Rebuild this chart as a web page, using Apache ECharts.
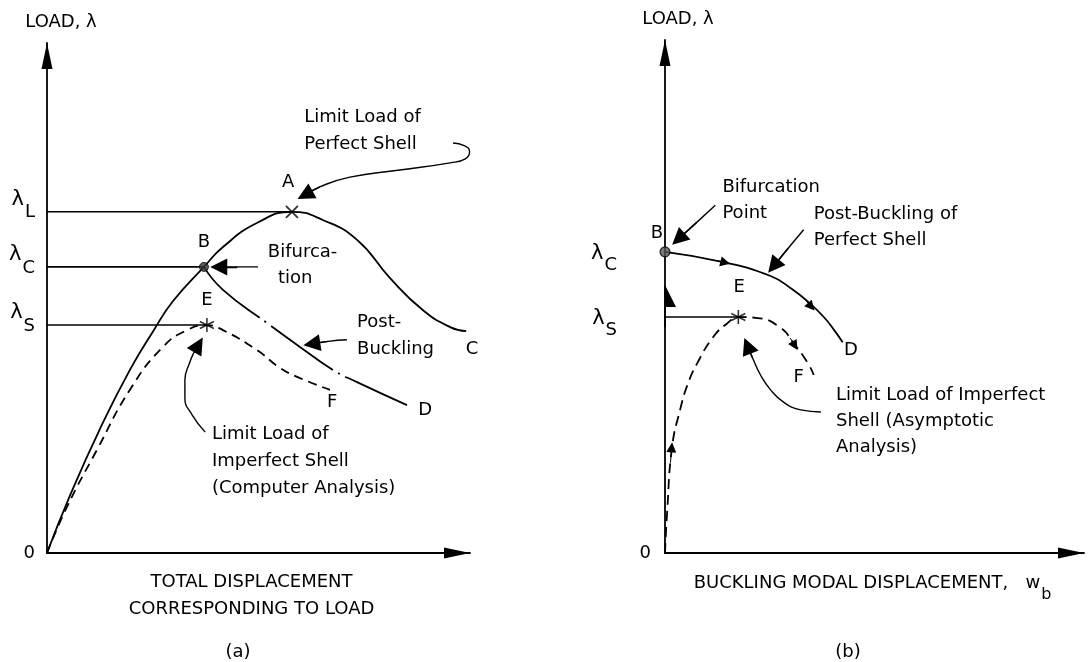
<!DOCTYPE html>
<html>
<head>
<meta charset="utf-8">
<script src="https://cdn.jsdelivr.net/npm/echarts@6/dist/echarts.min.js"></script>
<style>html,body{margin:0;padding:0;background:#fff;}#c{width:1090px;height:662px;}</style>
</head>
<body>
<div id="c"></div>
<script>
// ---------- Panel (a): total displacement vs load ----------
const aTickValues = [0, 44.7, 56.1, 66.9];
const aTickLabels = ['0', 'S', 'C', 'L'];
const aPrimaryPath = [[0,0],[5.4,11.2],[12.5,24.3],[19.6,35.9],[25.1,43.5],[29.8,49.4],[37.1,56.1],[41.6,60.0],[49.6,64.7],[57.9,66.9],[65.2,65.3],[73.3,61.4],[81.1,53.9],[88.9,47.6],[95.3,44.3],[99.1,43.5]];
const aPostBucklingPath = [[37.1,56.1],[41.6,51.6],[52.0,45.1],[59.8,40.4],[67.6,35.9],[73.3,33.5],[85.1,29.0]];
const aImperfectPath = [[0,0],[4.7,9.0],[11.8,20.2],[19.6,32.0],[27.4,40.4],[33.1,43.7],[37.8,44.7],[41.6,43.7],[49.6,39.8],[55.1,36.3],[59.8,34.3],[66.9,32.0]];
const aRefLines = [[[0,66.9],[57.9,66.9]], [[0,56.1],[37.1,56.1]], [[0,44.7],[37.8,44.7]]];
const aPointA = [57.9, 66.9];
const aPointB = [37.1, 56.1];
const aPointE = [37.8, 44.7];
const aPointLabels = [['A',57.0,72.7],['B',37.1,61.0],['E',37.8,49.6],['C',100.5,40.0],['D',89.4,28.0],['F',67.4,29.6]];
const aNotes = [
  ['Limit Load of\nPerfect Shell', 60.8, 82.8],
  ['Bifurca-', 52.2, 59.0],
  ['tion', 54.6, 53.9],
  ['Post-\nBuckling', 73.3, 42.6],
  ['Limit Load of\nImperfect Shell\n(Computer Analysis)', 39.0, 17.9]
];
const aArrows = [
  [[96.0,80.4],[98.6,79.9],[99.9,78.7],[98.9,77.3],[95.3,76.5],[83.4,75.1],[71.6,73.7],[64.5,71.8],[61.0,70.2]],
  [[49.9,56.1],[45.0,56.1],[40.6,56.1]],
  [[70.9,41.8],[66.5,41.5],[62.6,41.0]],
  [[37.4,23.7],[34.3,27.1],[32.6,30.4],[32.6,33.9],[33.8,37.5],[34.8,39.4],[35.8,40.8]]
];

// ---------- Panel (b): buckling modal displacement vs load ----------
const bTickValues = [0, 46.0, 58.7];
const bTickLabels = ['0', 'S', 'C'];
const bPostBucklingPath = [[0,58.7],[13.9,56.7],[25.2,54.0],[30.2,51.5],[34.4,48.8],[37.9,46.0],[40.5,43.3],[42.4,41.1]];
const bImperfectPath = [[0,0],[0.5,7.8],[1.7,20.7],[3.6,27.9],[5.5,33.1],[7.7,37.0],[11.5,42.1],[14.9,44.8],[17.5,46.0],[22.1,45.8],[27.6,43.9],[30.7,40.9],[34.1,37.0],[35.5,34.7]];
const bRefLines = [[[-9.6,58.7],[0,58.7]], [[-9.6,46.0],[17.5,46.0]]];
const bPointB = [0, 58.7];
const bPointE = [17.5, 46.0];
const bPointLabels = [['B',-1.9,62.4],['E',17.7,51.7],['D',44.4,39.6],['F',31.9,34.3]];
const bNotes = [
  ['Bifurcation\nPoint', 13.7, 68.8],
  ['Post-Buckling of\nPerfect Shell', 35.5, 63.4],
  ['Limit Load of Imperfect\nShell (Asymptotic\nAnalysis)', 40.8, 25.7]
];
const bArrows = [
  [[12.0,67.8],[7.5,64.4],[3.2,61.2]],
  [[33.1,63.0],[29.4,59.4],[25.9,55.9]],
  [[37.2,27.5],[32.4,27.9],[28.3,29.4],[25.2,31.8],[22.8,34.7],[20.9,38.0],[19.7,40.4]]
];
const bAxisArrows = [
  [[0,44.0],[0,50.1]]
];
const bTinyArrows = [
  [[12.4,57.0],[14.4,56.6]],
  [[33.2,49.6],[34.9,48.0]],
  [[29.9,41.9],[31.0,40.4]],
  [[1.3,17.6],[1.6,20.6]]
];

// ---------- styling ----------
const FONT = 'DejaVu Sans';
const INK = '#000000';
const TXT = {fontFamily: FONT, fontSize: 18, color: INK};
const X_MARK = 'path://M0,0L10,10M10,0L0,10';
const STAR_MARK = 'path://M5,0L5,10M0.7,2.5L9.3,7.5M9.3,2.5L0.7,7.5';

function tickFormatter(values, labels) {
  return function (v) {
    let i = 0;
    for (let k = 0; k < values.length; k++) if (Math.abs(values[k] - v) < 1e-6) i = k;
    const s = labels[i];
    return s === '0' ? '{z|0}' : '{l|λ}{s|' + s + '}';
  };
}

function yAxisDef(grid, values, labels, rich, namePad) {
  return {
    gridIndex: grid, type: 'value', min: 0, max: 100,
    name: 'LOAD, λ', nameLocation: 'end', nameGap: 12,
    nameTextStyle: Object.assign({}, TXT, {fontSize: 18, padding: [0,0,0,namePad]}),
    axisLine: {show: true, onZero: false, symbol: ['none','triangle'], symbolSize: [11,26], symbolOffset: [0,-13], lineStyle: {color: INK, width: 1.8}},
    axisTick: {show: false}, splitLine: {show: false},
    axisLabel: {show: true, customValues: values, margin: rich.margin, formatter: tickFormatter(values, labels), rich: rich.styles}
  };
}

function xAxisDef(grid, name, rich, pad, gap) {
  return {
    gridIndex: grid, type: 'value', min: 0, max: 100,
    name: name, nameLocation: 'middle', nameGap: gap,
    nameTextStyle: Object.assign({}, TXT, {lineHeight: 27, padding: pad, rich: rich}),
    axisLine: {show: true, onZero: false, symbol: ['none','triangle'], symbolSize: [11,26], symbolOffset: [0,-13], lineStyle: {color: INK, width: 1.8}},
    axisTick: {show: false}, splitLine: {show: false}, axisLabel: {show: false}
  };
}

function curve(grid, data, dash, smooth, width) {
  return {
    type: 'line', xAxisIndex: grid, yAxisIndex: grid, data: data, smooth: smooth,
    symbol: 'none', clip: false, silent: true, z: 3,
    lineStyle: {color: INK, width: width || 1.8, type: dash, cap: 'butt'}
  };
}

function marker(grid, pt, symbol, size, fill, border) {
  return {
    type: 'scatter', xAxisIndex: grid, yAxisIndex: grid, data: [pt], symbol: symbol, symbolSize: size,
    clip: false, silent: true, z: 5,
    itemStyle: {color: fill, borderColor: INK, borderWidth: border}
  };
}

function textSeries(grid, items, align, lineHeight, fontSize) {
  return {
    type: 'scatter', xAxisIndex: grid, yAxisIndex: grid, symbolSize: 0, clip: false, silent: true, z: 6,
    itemStyle: {color: INK, opacity: 1},
    data: items.map(function (d) { return {value: [d[1], d[2]], name: d[0]}; }),
    label: {show: true, position: align === 'left' ? 'right' : 'inside', distance: 0,
      formatter: function (p) { return p.name; }, opacity: 1,
      textBorderWidth: 0, textShadowBlur: 0,
      fontFamily: FONT, fontSize: fontSize, color: INK, lineHeight: lineHeight, align: align}
  };
}

// arrow = smooth body (line series) + head (lines series on last segment)
function arrowSeries(grid, paths, size, width) {
  const out = [];
  paths.forEach(function (p) {
    if (p.length > 2) out.push(curve(grid, p, 'solid', 0.5, width));
  });
  out.push({
    type: 'lines', coordinateSystem: 'cartesian2d', xAxisIndex: grid, yAxisIndex: grid,
    polyline: false, silent: true, z: 4,
    symbol: ['none', 'triangle'], symbolSize: size,
    lineStyle: {color: INK, width: width, opacity: 1, curveness: 0},
    data: paths.map(function (p) { return {coords: [p[p.length - 2], p[p.length - 1]]}; })
  });
  return out;
}

let series = [];
// panel (a)
aRefLines.forEach(function (l) { series.push(curve(0, l, 'solid', false, 1.6)); });
series.push(curve(0, aPrimaryPath, 'solid', 0.5));
series.push(curve(0, aPostBucklingPath, [76,6,2,6], 0.5));
series.push(curve(0, aImperfectPath, [9,6], 0.5));
series.push(marker(0, aPointA, X_MARK, 12, 'none', 1.8));
series.push(marker(0, aPointB, 'circle', 9, '#333', 1));
series.push(marker(0, aPointE, STAR_MARK, 14, 'none', 1.6));
series.push(textSeries(0, aPointLabels, 'center', 20, 18));
series.push(textSeries(0, aNotes, 'left', 27, 18));
series = series.concat(arrowSeries(0, aArrows, [8,17], 1.4));
// panel (b)
bRefLines.forEach(function (l) { series.push(curve(1, l, 'solid', false, 1.6)); });
series.push(curve(1, bPostBucklingPath, 'solid', 0.5));
series.push(curve(1, bImperfectPath, [10,6], 0.5));
series.push(marker(1, bPointB, 'circle', 10, '#555', 1.2));
series.push(marker(1, bPointE, STAR_MARK, 14, 'none', 1.6));
series.push(textSeries(1, bPointLabels, 'center', 20, 18));
series.push(textSeries(1, bNotes, 'left', 26, 18));
series = series.concat(arrowSeries(1, bArrows, [8,17], 1.4));
series = series.concat(arrowSeries(1, bAxisArrows, [11,22], 1.8));
series = series.concat(arrowSeries(1, bTinyArrows, [6,10], 1));

const chart = echarts.init(document.getElementById('c'), null, {renderer: 'canvas'});
chart.setOption({
  animation: false,
  backgroundColor: '#ffffff',
  title: [
    {text: '(a)', left: 233, top: 638, textAlign: 'center', textStyle: Object.assign({}, TXT, {fontWeight: 'normal'})},
    {text: '(b)', left: 843, top: 638, textAlign: 'center', textStyle: Object.assign({}, TXT, {fontWeight: 'normal'})}
  ],
  grid: [
    {left: 47, top: 43, width: 423, height: 510},
    {left: 665, top: 40, width: 419, height: 513}
  ],
  xAxis: [
    xAxisDef(0, 'TOTAL DISPLACEMENT\nCORRESPONDING TO LOAD', {}, [0,14,0,0], 16),
    xAxisDef(1, '{t|BUCKLING MODAL DISPLACEMENT,}{w|   w}{b|b}',
      {t: {fontFamily: FONT, fontSize: 18, color: INK}, w: {fontFamily: FONT, fontSize: 18, color: INK},
       b: {fontFamily: FONT, fontSize: 16, color: INK, padding: [22,0,0,1]}}, [0,4,0,0], 17)
  ],
  yAxis: [
    yAxisDef(0, aTickValues, aTickLabels, {margin: 12, styles: {
      z: {fontFamily: FONT, fontSize: 18, color: INK},
      l: {fontFamily: FONT, fontSize: 21, color: INK, padding: [0,0,24,0]},
      s: {fontFamily: FONT, fontSize: 18, color: INK, padding: [2,0,0,1]}}}, 28),
    yAxisDef(1, bTickValues, bTickLabels, {margin: 14, styles: {
      z: {fontFamily: FONT, fontSize: 18, color: INK},
      l: {fontFamily: FONT, fontSize: 21, color: INK, padding: [4,0,0,0]},
      s: {fontFamily: FONT, fontSize: 18, color: INK, padding: [26,34,0,1]}}}, 26)
  ],
  series: series
});
</script>
</body>
</html>
